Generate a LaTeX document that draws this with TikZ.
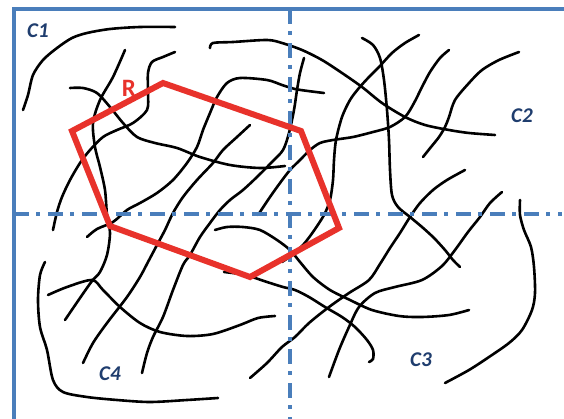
\documentclass[tikz,border=0pt]{standalone}
\usepackage{fontspec}
\setmainfont{Carlito}
\definecolor{frameblue}{HTML}{4A7EBB}
\definecolor{labelblue}{HTML}{1F3D6E}
\definecolor{polyred}{HTML}{E8322B}
\begin{document}
\begin{tikzpicture}[x=1pt,y=-1pt,
  fiber/.style={black, line width=2.6pt, line cap=round, line join=round},
  axisline/.style={frameblue, line width=3.4pt, dash pattern=on 15pt off 7pt on 4pt off 8pt},
  regionlabel/.style={labelblue, font=\fontsize{21}{21}\selectfont\bfseries\itshape, inner sep=0pt},
  polygon/.style={polyred, line width=6pt, line join=miter},
]
\useasboundingbox (0,0) rectangle (564,419);
\fill[white] (0,0) rectangle (564,419);
% fibers
\draw[fiber] plot[smooth] coordinates {(23,110) (28,95) (33,75) (43,60) (57,48) (72,38) (87,33) (110,29) (140,27) (175,27)};
\draw[fiber] plot[smooth] coordinates {(70,88) (83,88) (97,93) (110,107) (123,123) (137,137) (155,143) (177,148) (200,157) (230,165) (260,168) (285,166)};
\draw[fiber] plot[smooth] coordinates {(125,50) (113,77) (100,100) (93,123) (95,147) (100,167) (105,190) (107,215) (110,233) (107,255) (100,272) (92,281) (80,298) (65,320)};
\draw[fiber] plot[smooth] coordinates {(175,52) (163,57) (152,62) (148,73) (148,93) (147,110) (133,123) (117,130) (103,137) (90,150) (80,163) (70,180) (62,197) (57,212) (53,230)};
\draw[fiber] plot[smooth] coordinates {(210,48) (213,43) (233,42) (267,40) (282,43) (302,50) (322,60) (342,73) (362,87) (382,103) (405,117) (425,125) (449,130) (469,133) (495,135)};
\draw[fiber] plot[smooth] coordinates {(324,93) (308,91) (295,89) (282,85) (267,80) (240,78) (227,83) (217,97) (210,113) (203,130) (197,147) (187,163) (173,180) (157,193) (140,203) (127,210) (113,222) (97,229) (87,237)};
\draw[fiber] plot[smooth] coordinates {(250,125) (237,137) (223,150) (213,163) (197,180) (183,197) (173,213) (165,230) (157,245) (148,262) (140,277) (127,297) (107,323) (93,343) (83,363)};
\draw[fiber] plot[smooth] coordinates {(304,58) (300,73) (297,90) (294,110) (289,133) (283,150) (272,162) (257,177) (243,190) (230,200) (220,210) (210,223) (200,237) (190,255) (183,265) (173,290) (163,317) (153,337) (147,353) (142,373)};
\draw[fiber] plot[smooth] coordinates {(362,38) (373,45) (380,58) (384,80) (387,110) (389,140) (390,170) (392,195) (398,207) (410,217) (422,227) (434,238) (445,250) (453,260) (460,267)};
\draw[fiber] plot[smooth] coordinates {(419,35) (405,43) (392,53) (379,67) (369,77) (359,88) (350,100) (342,117) (336,140) (334,160) (333,180) (330,200) (324,215) (313,232) (303,245) (292,255) (282,262)};
\draw[fiber] plot[smooth] coordinates {(449,50) (440,58) (430,72) (422,87) (414,103) (405,117) (390,127) (373,132) (353,137) (333,140) (320,143) (310,150) (300,160) (290,170) (280,183) (270,197) (258,215)};
\draw[fiber] plot[smooth] coordinates {(519,52) (499,60) (482,70) (469,83) (455,100) (449,117) (445,127) (439,137) (431,147) (423,157)};
\draw[fiber] plot[smooth] coordinates {(465,170) (447,180) (433,190) (420,203) (410,217) (400,233) (390,248) (380,264) (369,280) (349,293) (329,307) (309,323) (295,337) (282,347) (267,363) (250,378)};
\draw[fiber] plot[smooth] coordinates {(502,192) (490,203) (480,217) (468,232) (455,250) (442,266) (422,280) (395,287) (375,293) (359,307) (349,327) (339,350) (329,377)};
\draw[fiber] plot[smooth] coordinates {(520,200) (520,215) (524,230) (531,247) (534,267) (535,293) (532,310) (522,330) (509,343) (489,357) (469,370) (445,383)};
\draw[fiber] plot[smooth] coordinates {(215,230) (227,227) (243,227) (260,230) (277,240) (290,250) (300,262) (313,277) (330,290) (350,300) (372,310) (399,316) (422,317) (449,315) (469,310)};
\draw[fiber] plot[smooth] coordinates {(224,272) (240,274) (252,277) (267,282) (283,287) (295,290) (309,297) (325,307) (342,317) (355,327) (367,340) (373,350) (373,359) (369,362)};
\draw[fiber] plot[smooth] coordinates {(45,262) (40,275) (38,300) (40,327) (47,350) (53,380) (63,392) (87,397) (117,400) (150,402) (187,400) (218,398)};
\draw[fiber] plot[smooth] coordinates {(48,295) (67,287) (92,280) (103,290) (120,307) (140,323) (160,332) (187,336) (213,334) (240,325) (258,318) (275,316)};
% frame and axes
\draw[frameblue, line width=3.4pt] (14,419) -- (14,9) -- (564,9);
\draw[axisline] (290,9) -- (290,419);
\draw[axisline] (14,214) -- (562,214);
% region R
\draw[polygon] (163,83) -- (301,131) -- (339,228) -- (250,277) -- (110,226) -- (72,131) -- cycle;
\node[polyred, font=\fontsize{25}{25}\selectfont\bfseries, inner sep=0pt] (lr) at (129,88) {R};
% labels
\node[regionlabel] (c1) at (38,31) {C1};
\node[regionlabel] (c2) at (522,116) {C2};
\node[regionlabel] (c3) at (421,360) {C3};
\node[regionlabel] (c4) at (110,374) {C4};
\end{tikzpicture}
\end{document}
